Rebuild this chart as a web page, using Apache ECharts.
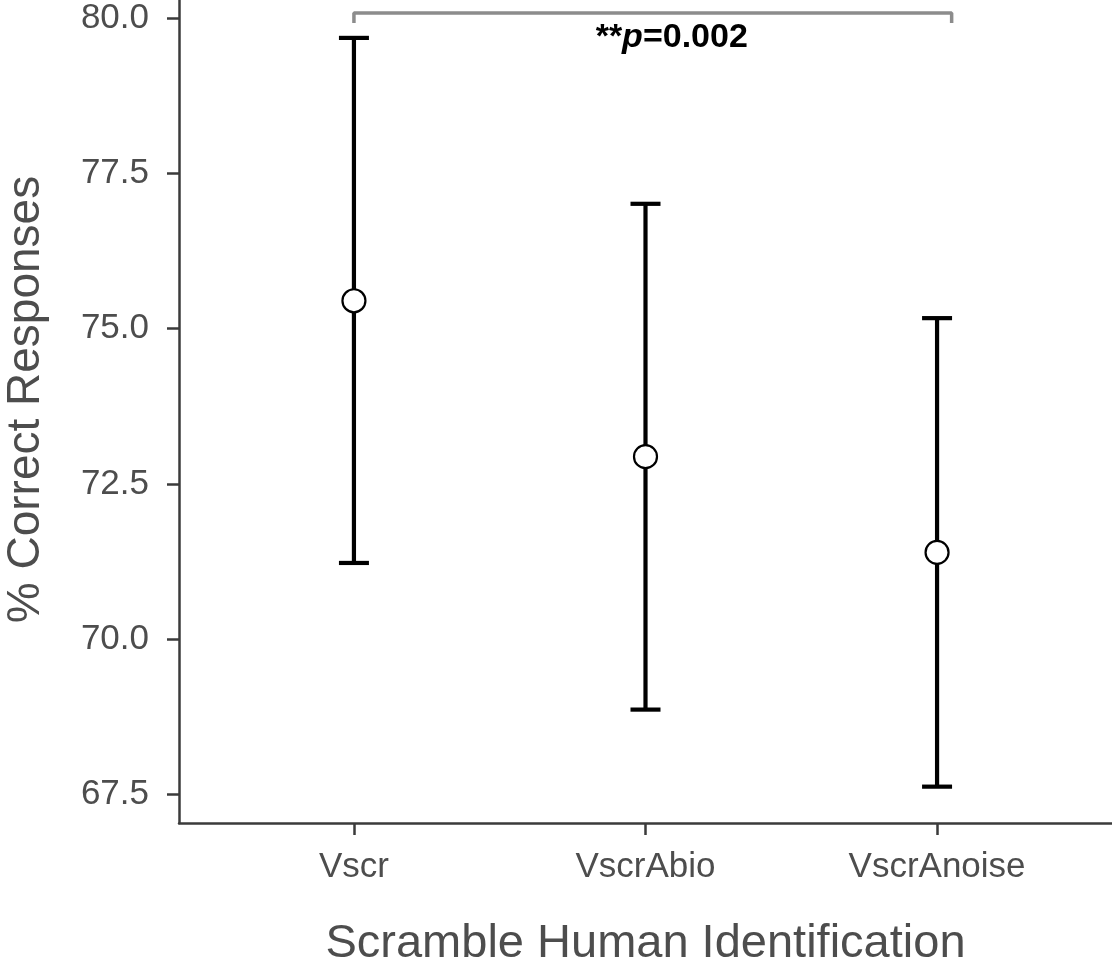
<!DOCTYPE html>
<html>
<head>
<meta charset="utf-8">
<script src="https://cdn.jsdelivr.net/npm/echarts@6/dist/echarts.min.js"></script>
<style>
  html, body { margin: 0; padding: 0; background: #fff; }
  #chart { width: 1112px; height: 963px; }
</style>
</head>
<body>
<div id="chart"></div>
<script>
// 数据
var categories = ['Vscr', 'VscrAbio', 'VscrAnoise'];
var means = [75.45, 72.94, 71.40];
var lower = [71.23, 68.87, 67.63];
var upper = [79.68, 77.01, 75.17];
var yTicks = [67.5, 70.0, 72.5, 75.0, 77.5, 80.0];
// 显著性标注
var bracketX = [1, 3.05];
var bracketY = [79.92, 80.08];

var chart = echarts.init(document.getElementById('chart'));

var textColor = '#4d4d4d';
var axisColor = '#3b3b3b';
var xPos = categories.map(function (c, i) { return i + 1; });

var option = {
    animation: false,
    grid: {
        left: 179,
        right: 0,
        top: 0,
        bottom: 140,
        containLabel: false,
        outerBoundsMode: 'none'
    },
    xAxis: {
        type: 'value',
        min: 0.4,
        max: 3.6,
        name: 'Scramble Human Identification',
        nameLocation: 'middle',
        nameGap: 98,
        nameTextStyle: { fontFamily: 'Liberation Sans', fontSize: 47, color: textColor },
        axisLine: { show: true, lineStyle: { color: axisColor, width: 2.5 } },
        axisTick: { show: true, length: 12, lineStyle: { color: axisColor, width: 2.5 }, customValues: xPos },
        axisLabel: {
            customValues: xPos,
            margin: 27,
            fontFamily: 'Liberation Sans',
            fontSize: 35,
            color: textColor,
            formatter: function (v) { return categories[Math.round(v) - 1] || ''; }
        },
        splitLine: { show: false }
    },
    yAxis: {
        type: 'value',
        min: 67.045,
        max: 80.29,
        name: '% Correct Responses',
        nameLocation: 'middle',
        nameGap: 130,
        nameTextStyle: { fontFamily: 'Liberation Sans', fontSize: 46, color: textColor, padding: [0, 0, 0, 24] },
        axisLine: { show: true, lineStyle: { color: axisColor, width: 2.5 } },
        axisTick: { show: true, length: 12, lineStyle: { color: axisColor, width: 2.5 }, customValues: yTicks },
        axisLabel: {
            customValues: yTicks,
            margin: 30,
            fontFamily: 'Liberation Sans',
            fontSize: 35,
            color: textColor,
            formatter: function (v) { return v.toFixed(1); }
        },
        splitLine: { show: false }
    },
    series: [
        {
            // 误差线
            type: 'custom',
            data: xPos.map(function (x, i) { return [x, lower[i], upper[i]]; }),
            renderItem: function (params, api) {
                var lo = api.coord([api.value(0), api.value(1)]);
                var hi = api.coord([api.value(0), api.value(2)]);
                var half = 15;
                var style = { stroke: '#000', lineWidth: 4.2 };
                return {
                    type: 'group',
                    children: [
                        { type: 'line', shape: { x1: lo[0], y1: lo[1], x2: hi[0], y2: hi[1] }, style: style },
                        { type: 'line', shape: { x1: lo[0] - half, y1: lo[1], x2: lo[0] + half, y2: lo[1] }, style: style },
                        { type: 'line', shape: { x1: hi[0] - half, y1: hi[1], x2: hi[0] + half, y2: hi[1] }, style: style }
                    ]
                };
            },
            z: 2
        },
        {
            // 均值点
            type: 'scatter',
            data: xPos.map(function (x, i) { return [x, means[i]]; }),
            symbol: 'circle',
            symbolSize: 23,
            itemStyle: { color: '#fff', borderColor: '#000', borderWidth: 2.2, opacity: 1 },
            z: 3
        },
        {
            // 显著性括号
            type: 'line',
            data: [
                [bracketX[0], bracketY[0]],
                [bracketX[0], bracketY[1]],
                [bracketX[1], bracketY[1]],
                [bracketX[1], bracketY[0]]
            ],
            showSymbol: false,
            symbol: 'none',
            lineStyle: { color: '#8c8c8c', width: 3.5 },
            z: 2
        },
        {
            type: 'scatter',
            data: [[2.09, 79.69]],
            symbolSize: 0,
            itemStyle: { opacity: 1 },
            label: {
                show: true,
                position: 'inside',
                formatter: '{s|**}{i|p}{s|=0.002}',
                rich: {
                    s: { fontFamily: 'Liberation Sans', fontWeight: 'bold', fontSize: 34, color: '#000' },
                    i: { fontFamily: 'Liberation Sans', fontWeight: 'bold', fontStyle: 'italic', fontSize: 34, color: '#000' }
                }
            },
            z: 4
        }
    ]
};

chart.setOption(option);
</script>
</body>
</html>
